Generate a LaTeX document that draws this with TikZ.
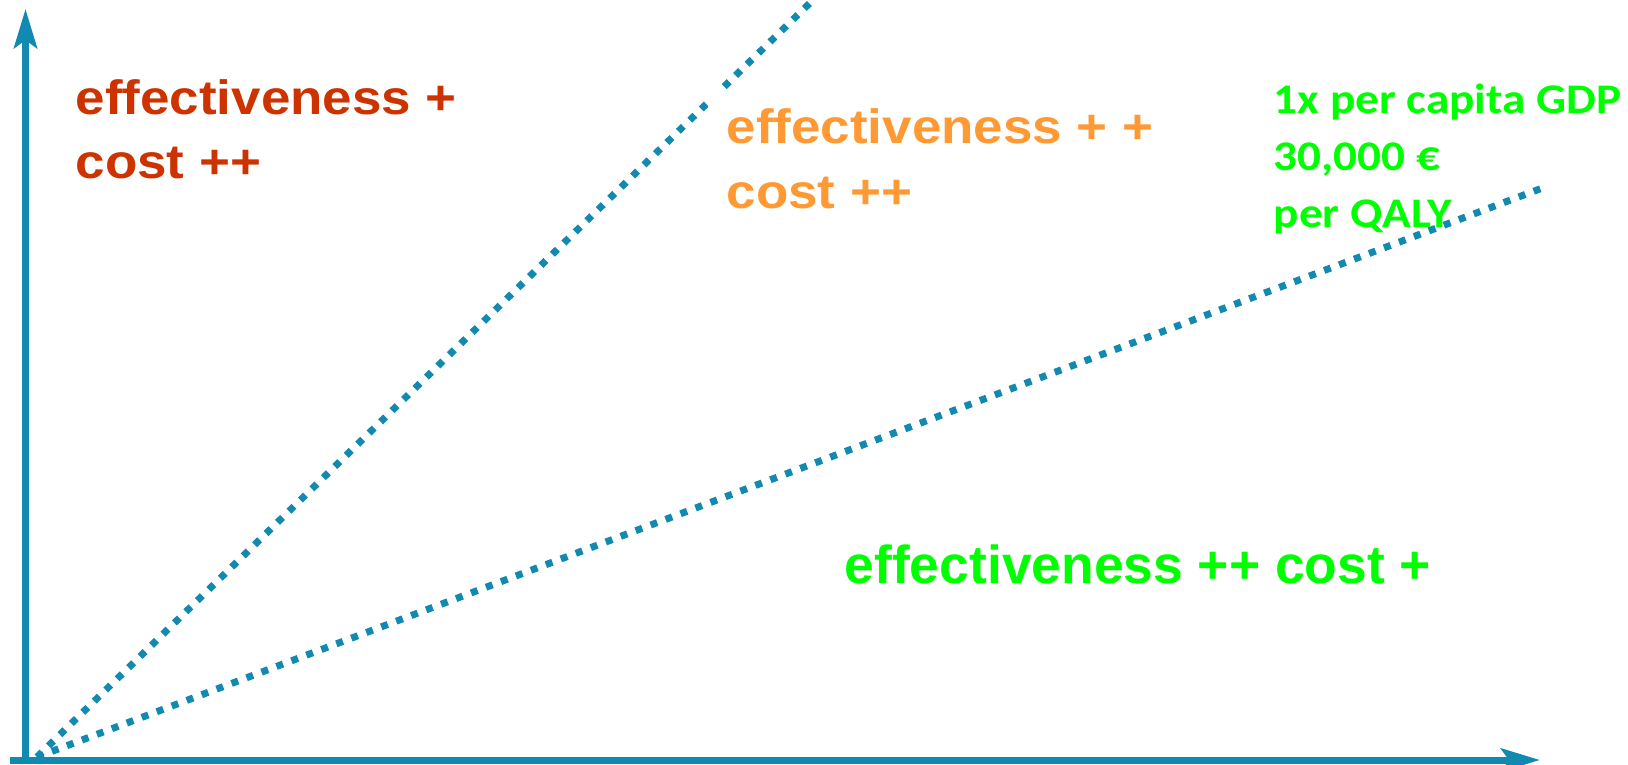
\documentclass[tikz,border=0pt]{standalone}
\usepackage{fontspec}
\usepackage{tikz}
\usetikzlibrary{
  positioning,
  arrows.meta
}
\usepackage{xcolor}

\newfontfamily\quadfont[FakeStretch=1.1,Ligatures=NoCommon]{Liberation Sans}
\newfontfamily\plainfont[Ligatures=NoCommon]{Liberation Sans}
\newfontfamily\gdpfont[FakeStretch=1.12,Ligatures=NoCommon]{Carlito}

\definecolor{axisblue}{RGB}{18,137,176}
\definecolor{quadred}{RGB}{204,51,0}
\definecolor{quadorange}{RGB}{255,153,51}
\definecolor{quadgreen}{RGB}{0,255,0}

\begin{document}
\begin{tikzpicture}[>={Stealth[length=3.9mm,width=2.3mm,inset=0.8mm]},
    axis/.style={draw=axisblue,line width=0.07cm,->},
    wtpline/.style={draw=axisblue,line width=0.07cm,dash pattern=on 0.07cm off 0.09cm},
    quad/.style={inner sep=0pt,align=left,anchor=base west,
      font=\quadfont\bfseries\fontsize{13.7pt}{18.35pt}\selectfont}]
        \useasboundingbox (0,0) rectangle (16.28,7.64);
        % origin and ends of the threshold lines
        \coordinate (O) at (0.37,0.07);
        \coordinate (steep) at (8.15,7.66);
        \coordinate (shallow) at (15.45,5.77);
        \draw[wtpline] (O) -- (steep);
        \draw[wtpline] (O) -- (shallow);
        % axes
        \draw[axis] (0.255,0) -- (0.255,7.55);
        \draw[axis] (0.10,0.04) -- (15.40,0.04);
        % quadrant labels (base = last line)
        \node[quad,text=quadred] (redlbl) at (0.75,5.85) {effectiveness +\\cost ++};
        \node[quad,text=quadorange,fill=white,inner sep=0.19cm] (orangelbl) at (7.07,5.56) {effectiveness + +\\cost ++};
        \node[quad,text=quadgreen,font=\plainfont\bfseries\fontsize{15.2pt}{18pt}\selectfont] (greenlbl) at (8.44,1.81) {effectiveness ++ cost +};
        \node[quad,text=quadgreen,font=\gdpfont\bfseries\fontsize{12pt}{16.2pt}\selectfont] (gdplbl) at (12.73,5.37) {1x per capita GDP\\30,000 €\\per QALY};
    \end{tikzpicture}
\end{document}
